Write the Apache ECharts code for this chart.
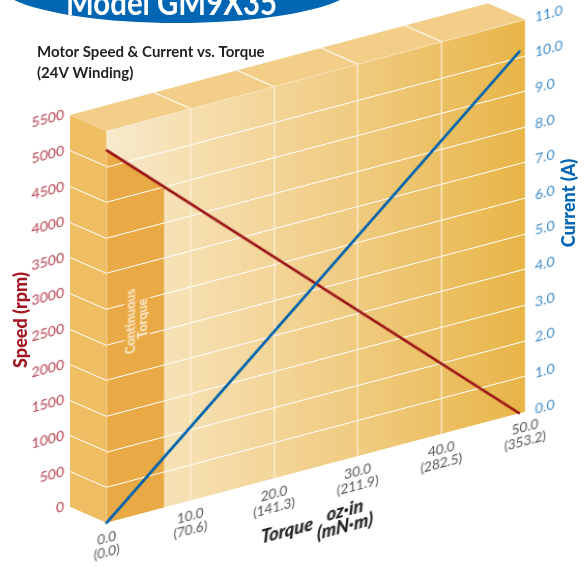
<!DOCTYPE html>
<html><head><meta charset="utf-8">
<style>
html,body{margin:0;padding:0;width:587px;height:567px;overflow:hidden;background:#fff}
.layer{position:absolute;left:0;top:0;transform-origin:0 0}
#wall{width:36.7px;height:392px;transform:matrix(1,0.436,0,1,70,115)}
#top{width:418.3px;height:36.7px;transform:matrix(1,-0.2669,1,0.436,70,115)}
#front{width:587px;height:720px;transform:matrix(1,-0.2654,0,1,0,0)}
#flat{width:587px;height:567px}
</style>
<script src="https://cdn.jsdelivr.net/npm/echarts@6/dist/echarts.min.js"></script>
</head><body>
<div id="wall" class="layer"></div>
<div id="top" class="layer"></div>
<div id="front" class="layer"></div>
<div id="flat" class="layer"></div>
<script>
const torque = [0, 49.3];
const speedRpm = [5230, 0];
const currentA = [0, 10.15];
const bandTorque = [0, 6.85];
const bandSpeed = [5230, 4503];
const labelPoint = [3.62, 2734];
const ozIn = ['0.0','10.0','20.0','30.0','40.0','50.0'];
const mNm = ['0.0','70.6','141.3','211.9','282.5','353.2'];

const FONT = 'Lato';
const init = id => echarts.init(document.getElementById(id), null, {renderer:'canvas'});
const hiddenAxis = {axisLine:{show:false},axisTick:{show:false},axisLabel:{show:false}};
const grid = {show:false,left:0,right:0,top:0,bottom:0};

init('wall').setOption({
  animation:false,
  grid:{...grid,show:true,backgroundColor:'#EFBE63',borderWidth:0},
  xAxis:{type:'value',min:0,max:1,show:false},
  yAxis:{type:'value',min:0,max:5500,interval:500,...hiddenAxis,
    splitLine:{show:true,showMinLine:false,showMaxLine:false,lineStyle:{color:'#fff',width:1.1}}},
  series:[]
});

init('top').setOption({
  animation:false,
  grid:{...grid,show:true,backgroundColor:'#F2CE89',borderWidth:0},
  xAxis:{type:'value',min:0,max:50,interval:10,...hiddenAxis,
    splitLine:{show:true,showMinLine:false,showMaxLine:false,lineStyle:{color:'#fff',width:1.6}}},
  yAxis:{type:'value',min:0,max:1,show:false},
  series:[]
});

init('front').setOption({
  animation:false,
  grid:[
    {show:true,left:106.7,top:159.3,width:418.3,height:391.7,borderWidth:0,
     backgroundColor:new echarts.graphic.LinearGradient(0,0,1,0,[
       {offset:0,color:'#F8EACD'},{offset:0.2,color:'#F6DFB0'},
       {offset:0.6,color:'#F0CB80'},{offset:1,color:'#E8B548'}])},
    {show:false,left:70,top:131.9,width:1,height:391.7}
  ],
  xAxis:[
    {gridIndex:0,type:'value',min:0,max:50,interval:10,z:2,
     axisLine:{show:false},axisTick:{show:false},
     axisLabel:{margin:8,color:'#555',fontFamily:FONT,fontSize:13.5,lineHeight:14.5,
       formatter:v=>{const i=v/10;return ozIn[i]+'\n('+mNm[i]+')';}},
     splitLine:{show:true,showMinLine:false,showMaxLine:false,lineStyle:{color:'#FFF6E6',width:1.1}}},
    {gridIndex:1,type:'value',min:0,max:1,show:false}
  ],
  yAxis:[
    {gridIndex:0,type:'value',min:0,max:5500,interval:500,z:2,...hiddenAxis,
     splitLine:{show:true,showMinLine:false,showMaxLine:false,lineStyle:{color:'#fff',width:1.1}}},
    {gridIndex:0,type:'value',min:0,max:11,interval:1,position:'right',z:2,
     axisLine:{show:false},axisTick:{show:false},splitLine:{show:false},
     axisLabel:{margin:10,color:'#3E8DCB',fontFamily:FONT,fontSize:14,formatter:v=>v.toFixed(1)}},
    {gridIndex:1,type:'value',min:0,max:5500,interval:500,position:'left',
     axisLine:{show:false},axisTick:{show:false},splitLine:{show:false},
     axisLabel:{margin:6,color:'#B5404E',fontFamily:FONT,fontSize:14,formatter:v=>String(v)}}
  ],
  series:[
    {name:'Continuous Torque',type:'line',xAxisIndex:0,yAxisIndex:0,z:1,symbol:'none',
     lineStyle:{width:0},areaStyle:{color:'#E9A945',opacity:1},
     data:bandTorque.map((t,i)=>[t,bandSpeed[i]])},
    {type:'scatter',xAxisIndex:0,yAxisIndex:0,z:4,symbolSize:0,silent:true,
     label:{show:true,position:'inside',rotate:90,formatter:'Continuous\nTorque',
       color:'#FFF8EA',fontFamily:FONT,fontWeight:900,fontSize:12.5,lineHeight:12,
       backgroundColor:'#E9A945',padding:[1,1,1,1]},
     data:[labelPoint]},
    {name:'Speed',type:'line',xAxisIndex:0,yAxisIndex:0,z:5,symbol:'none',
     lineStyle:{color:'#960A10',width:2.3,cap:'round'},
     data:torque.map((t,i)=>[t,speedRpm[i]])},
    {name:'Current',type:'line',xAxisIndex:0,yAxisIndex:1,z:6,symbol:'none',
     lineStyle:{color:'#0063AE',width:3,cap:'round'},
     data:torque.map((t,i)=>[t,currentA[i]])}
  ],
  graphic:[
    {type:'text',x:287,y:607,style:{text:'Torque',fill:'#231F20',font:'italic 900 18px '+FONT,align:'center',verticalAlign:'middle'}},
    {type:'text',x:345,y:610,style:{text:'oz\u00B7in\n(mN\u00B7m)',fill:'#231F20',font:'italic 900 18px '+FONT,lineHeight:16,align:'center',verticalAlign:'middle'}}
  ]
});

init('flat').setOption({
  animation:false,
  title:{text:'Motor Speed & Current vs. Torque\n(24V Winding)',left:37,top:42,padding:0,
    textStyle:{color:'#231F20',fontFamily:FONT,fontWeight:'bold',fontSize:15,lineHeight:21}},
  graphic:[
    {type:'ellipse',shape:{cx:177,cy:-17,rx:180,ry:40},style:{fill:'#0065B3'}},
    {type:'text',x:171.5,y:21,scaleX:0.84,style:{text:'Model GM9X35',fill:'#fff',font:'bold 35px '+FONT,align:'center',verticalAlign:'bottom'}},
    {type:'text',x:21,y:320,rotation:Math.PI/2,style:{text:'Speed (rpm)',fill:'#A31621',font:'900 18px '+FONT,align:'center',verticalAlign:'middle'}},
    {type:'text',x:569,y:203,rotation:Math.PI/2,style:{text:'Current (A)',fill:'#0065B3',font:'900 18px '+FONT,align:'center',verticalAlign:'middle'}}
  ]
});
</script>
</body></html>
